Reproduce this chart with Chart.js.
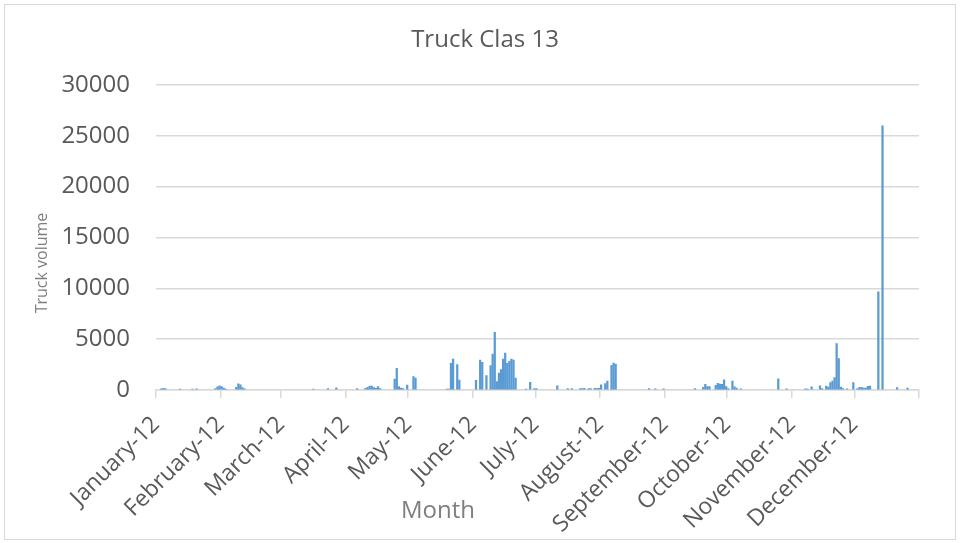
<!DOCTYPE html>
<html>
<head>
<meta charset="utf-8">
<title>Truck Clas 13</title>
<script src="https://cdn.jsdelivr.net/npm/chart.js@4.4.0/dist/chart.umd.min.js"></script>
<style>
  html, body { margin: 0; padding: 0; background: #fff; }
</style>
</head>
<body>
<canvas id="graphique" width="960" height="543"></canvas>
<script>

// jour de l'année 2012 (0 = 1er janvier) et volume de camions ce jour-là
const jours = [
  2, 3, 4, 11, 17, 19,
  28, 29, 30, 31, 32, 33, 38, 39, 40, 41, 42,
  75, 82, 86,
  96, 100, 101, 102, 103, 104, 105, 106, 107,
  114, 115, 116, 117, 118, 120, 123, 124,
  139, 140, 141, 142, 144, 145,
  153, 155, 156, 158, 160, 161, 162, 163, 164, 165, 166, 167, 168, 169, 170, 171, 172,
  177, 179, 181, 182,
  192, 197, 199, 203, 204, 205, 207, 208, 210, 211, 212,
  213, 215, 216, 218, 219, 220,
  236, 239, 243, 258,
  262, 263, 264, 265, 268, 269, 270, 271, 272, 273, 274, 276, 277, 278, 280,
  298, 302, 311, 312, 314,
  318, 319, 321, 322, 323, 324, 325, 326, 327, 328, 329, 331,
  334, 336, 337, 338, 339, 340, 341, 342, 346, 348, 355, 360
];
const volumes = [
  120, 160, 140, 100, 100, 120,
  150, 300, 420, 330, 200, 100, 260, 600, 520, 250, 120,
  100, 130, 220,
  130, 160, 260, 390, 390, 230, 160, 330, 130,
  1080, 2130, 330, 200, 130, 490, 1310, 1180,
  100, 100, 2620, 3050, 2490, 980,
  950, 2950, 2720, 1410, 2390, 3540, 5670, 820, 1670, 2000, 3050, 3640, 2620, 2820, 3050, 2950, 1180,
  100, 760, 130, 130,
  420, 150, 150, 150, 130, 160, 150, 150, 160, 150, 170,
  520, 620, 870, 2430, 2650, 2550,
  150, 120, 120, 130,
  260, 560, 330, 330, 450, 650, 580, 550, 1000, 330, 150, 880, 300, 180, 120,
  1100, 120, 120, 100, 300,
  400, 150, 390, 280, 720, 870, 1220, 4560, 3090, 280, 150, 120,
  720, 150, 260, 260, 200, 200, 360, 390, 9650, 25960, 230, 180
];

const debutsMois = [0, 31, 60, 91, 121, 152, 182, 213, 244, 274, 305, 335];
const mois = ['January-12', 'February-12', 'March-12', 'April-12', 'May-12', 'June-12',
  'July-12', 'August-12', 'September-12', 'October-12', 'November-12', 'December-12'];
const finAnnee = 366;

Chart.defaults.font.family = '"Open Sans", sans-serif';

// fond blanc et cadre gris autour du graphique
const cadre = {
  id: 'cadre',
  beforeDraw(chart) {
    const c = chart.ctx;
    c.save();
    c.fillStyle = '#ffffff';
    c.fillRect(0, 0, chart.width, chart.height);
    c.strokeStyle = '#d9d9d9';
    c.lineWidth = 1;
    c.strokeRect(4.5, 4.5, 951, 535);
    c.restore();
  }
};

// titres des axes, dessinés à part pour pouvoir les placer librement
const titresAxes = {
  id: 'titresAxes',
  afterDraw(chart) {
    const c = chart.ctx;
    c.save();
    c.fillStyle = '#7f7f7f';
    c.textAlign = 'center';
    c.textBaseline = 'middle';
    c.font = '24px "Open Sans"';
    c.fillText('Month', 438, 511);
    c.translate(42, 263);
    c.rotate(-Math.PI / 2);
    c.font = '16px "Open Sans"';
    c.fillText('Truck volume', 0, 0);
    c.restore();
  }
};

const ctx = document.getElementById('graphique').getContext('2d');

const graphique = new Chart(ctx, {
  type: 'bar',
  data: {
    datasets: [{
      label: 'Truck volume',
      data: jours.map((j, i) => ({ x: j + 0.5, y: volumes[i] })),
      backgroundColor: '#5b9bd5',
      barThickness: 1.6
    }]
  },
  options: {
    responsive: false,
    animation: false,
    layout: { padding: { left: 10, right: 0, top: 0, bottom: 0 } },
    plugins: {
      legend: { display: false },
      tooltip: { enabled: false },
      title: {
        display: true,
        text: 'Truck Clas 13',
        color: '#595959',
        font: { size: 24, weight: 'normal' },
        padding: { top: 26, bottom: 30 }
      }
    },
    scales: {
      x: {
        type: 'linear',
        min: 0,
        max: finAnnee,
        offset: false,
        afterBuildTicks: (axe) => {
          axe.ticks = debutsMois.concat([finAnnee]).map(v => ({ value: v }));
        },
        afterFit: (axe) => { axe.height = 153; },
        ticks: {
          autoSkip: false,
          minRotation: 45,
          maxRotation: 45,
          padding: 13,
          color: '#595959',
          font: { size: 23 },
          callback: (v, i) => mois[i] || ''
        },
        grid: {
          offset: false,
          drawOnChartArea: false,
          drawTicks: true,
          tickLength: 8,
          color: '#d9d9d9',
          lineWidth: 1.5
        },
        border: { display: true, color: '#d9d9d9', width: 1.5 }
      },
      y: {
        min: 0,
        max: 30000,
        afterFit: (axe) => { axe.width = 146; },
        ticks: {
          stepSize: 5000,
          padding: 26,
          color: '#595959',
          font: { size: 24 },
          callback: (v) => String(v)
        },
        grid: { color: '#d9d9d9', lineWidth: 1.5, drawTicks: false },
        border: { display: false }
      },
      // axe vide à droite, sert seulement de marge
      marge: {
        position: 'right',
        afterFit: (axe) => { axe.width = 41; },
        ticks: { display: false },
        grid: { display: false },
        border: { display: false }
      }
    }
  },
  plugins: [cadre, titresAxes]
});

</script>
</body>
</html>
